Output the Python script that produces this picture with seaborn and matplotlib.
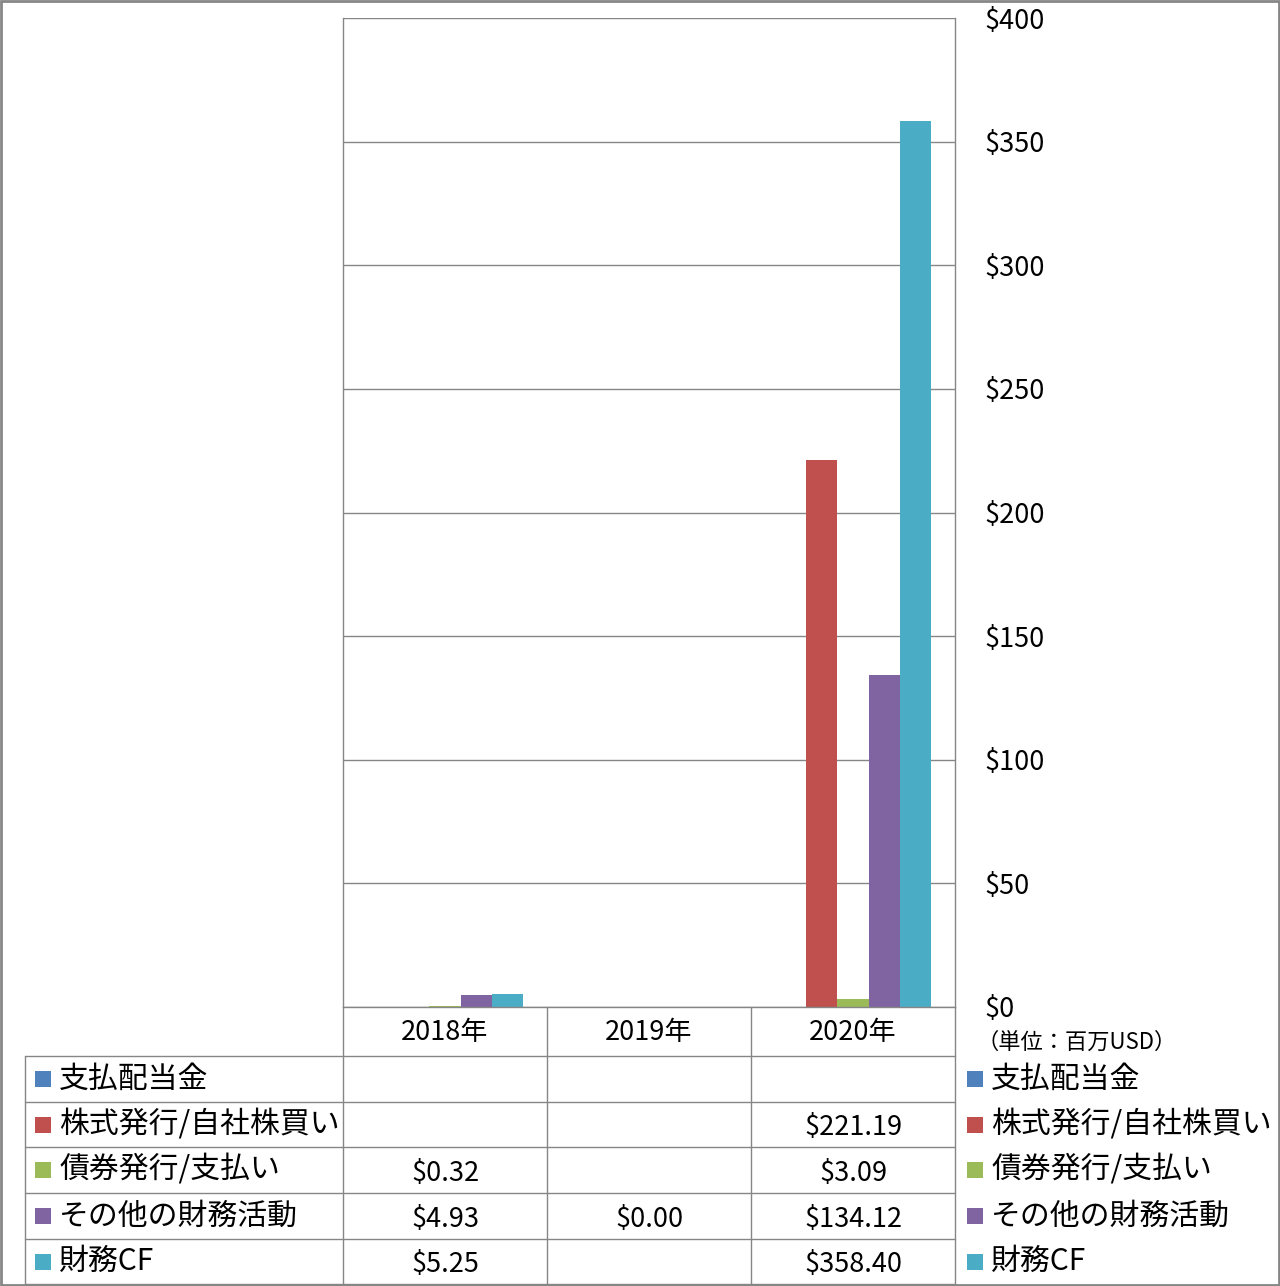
import numpy as np
import pandas as pd
import seaborn as sns
import matplotlib
matplotlib.use("Agg")
import matplotlib.pyplot as plt
from matplotlib.patches import Rectangle
from matplotlib.lines import Line2D
from matplotlib.transforms import blended_transform_factory

# ---------------- data ----------------
years = ["2018年", "2019年", "2020年"]
series = ["支払配当金", "株式発行/自社株買い", "債券発行/支払い", "その他の財務活動", "財務CF"]
dividends = [np.nan, np.nan, np.nan]
stock = [np.nan, np.nan, 221.19]
bonds = [0.32, np.nan, 3.09]
other = [4.93, 0.00, 134.12]
fin_cf = [5.25, np.nan, 358.40]
colors = ["#4F81BD", "#C0504D", "#9BBB59", "#8064A2", "#4BACC6"]
yticks = [0, 50, 100, 150, 200, 250, 300, 350, 400]
unit_label = "（単位：百万USD）"

values = [dividends, stock, bonds, other, fin_cf]
rows = []
for s, vals in zip(series, values):
    for y, v in zip(years, vals):
        rows.append({"year": y, "series": s, "value": v})
df = pd.DataFrame(rows)

sns.set_theme(style="white")
plt.rcParams["font.family"] = ["Noto Sans CJK JP", "DejaVu Sans"]

W, H = 1280, 1286
fig = plt.figure(figsize=(W / 100, H / 100), dpi=100)

def fx(px):
    return px / W

def fy(py):
    return 1 - py / H

ax_l, ax_r, ax_t, ax_b = 343, 955, 18, 1007
ax = fig.add_axes([fx(ax_l), fy(ax_b), fx(ax_r - ax_l), (ax_b - ax_t) / H])

sns.barplot(data=df.dropna(), x="year", y="value", hue="series",
            order=years, hue_order=series, palette=colors,
            errorbar=None, width=0.76, gap=0, saturation=1,
            linewidth=0, edgecolor="none",
            legend=False, ax=ax)

grid_c = "#868686"
ax.set_ylim(0, 400)
ax.set_xlim(-0.5, 2.5)
ax.set_yticks(yticks)
ax.set_yticklabels([f"${t}" for t in yticks])
ax.yaxis.tick_right()
ax.tick_params(axis="y", length=0, pad=21.5, labelsize=19.5, labelcolor="black")
ax.set_xticks([])
ax.set_xlabel("")
ax.set_ylabel("")
ax.yaxis.grid(True, color=grid_c, linewidth=1)
ax.set_axisbelow(True)
for side in ["left", "right", "bottom"]:
    ax.spines[side].set_visible(True)
    ax.spines[side].set_color(grid_c)
    ax.spines[side].set_linewidth(1)
ax.spines["top"].set_visible(False)

# ---------------- data table ----------------
lc = grid_c
col_x = [343, 547, 751, 955]
row_y = [1056, 1102, 1147, 1193, 1239, 1284]
for x in col_x:
    fig.add_artist(Line2D([fx(x), fx(x)], [fy(1007), fy(1284)], color=lc, lw=1))
fig.add_artist(Line2D([fx(25), fx(25)], [fy(1056), fy(1284)], color=lc, lw=1))
for y in row_y:
    fig.add_artist(Line2D([fx(25), fx(955)], [fy(y), fy(y)], color=lc, lw=1))

lab_fs = 21.5
tr = blended_transform_factory(ax.transData, fig.transFigure)
for i, yr in enumerate(years):
    ax.text(i, fy(1033), yr, transform=tr, ha="center", va="center",
            fontsize=19.5, color="black", clip_on=False)

for r, (s, vals, c) in enumerate(zip(series, values, colors)):
    yc = (row_y[r] + row_y[r + 1]) / 2
    fig.add_artist(Rectangle((fx(35), fy(yc + 8)), fx(16), 16 / H, color=c, lw=0))
    fig.text(fx(59), fy(yc), s, ha="left", va="center", fontsize=lab_fs, color="black")
    for i, v in enumerate(vals):
        if not np.isnan(v):
            ax.text(i, fy(yc + 3), f"${v:.2f}", transform=tr, ha="center", va="center",
                    fontsize=19.5, color="black", clip_on=False)
    fig.add_artist(Rectangle((fx(967), fy(yc + 8)), fx(16), 16 / H, color=c, lw=0))
    fig.text(fx(991), fy(yc), s, ha="left", va="center", fontsize=lab_fs, color="black")

fig.text(fx(977), fy(1042), unit_label, ha="left", va="center", fontsize=16, color="black")

fig.add_artist(Rectangle((0.0005, 0.0005), 0.999, 0.999, transform=fig.transFigure,
                         fill=False, edgecolor="#868686", lw=2))

fig.savefig("out.png", dpi=100)
